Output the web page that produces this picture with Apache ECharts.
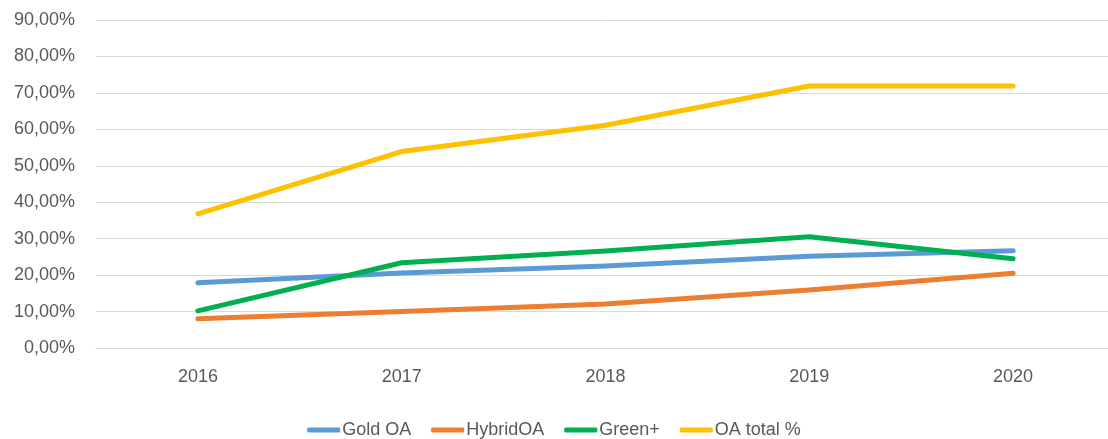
<!DOCTYPE html>
<html>
<head>
<meta charset="utf-8">
<script src="https://cdn.jsdelivr.net/npm/echarts@6/dist/echarts.min.js"></script>
<style>
html,body{margin:0;padding:0;background:#fff;}
#chart{width:1108px;height:439px;}
</style>
</head>
<body>
<div id="chart"></div>
<script>
const categories = ['2016', '2017', '2018', '2019', '2020'];
const goldOA = [0.179, 0.206, 0.225, 0.252, 0.267];
const hybridOA = [0.080, 0.100, 0.121, 0.159, 0.205];
const greenPlus = [0.102, 0.234, 0.266, 0.305, 0.245];
const oaTotal = [0.368, 0.539, 0.611, 0.719, 0.719];
const seriesNames = ['Gold OA', 'HybridOA', 'Green+', 'OA total %'];
const seriesColors = ['#5B9BD5', '#ED7D31', '#00B050', '#FFC000'];
const seriesData = [goldOA, hybridOA, greenPlus, oaTotal];

const font = '"Liberation Sans", Arial, sans-serif';
const chart = echarts.init(document.getElementById('chart'));
chart.setOption({
  animation: false,
  backgroundColor: '#ffffff',
  grid: { left: 96, width: 1019, top: 20, height: 328, containLabel: false, outerBoundsMode: 'none' },
  legend: {
    top: 416,
    left: 'center',
    icon: 'roundRect',
    itemWidth: 33,
    itemHeight: 5,
    itemGap: 20,
    textStyle: { color: '#595959', fontSize: 18, fontFamily: font, padding: [0, 0, 0, -3] },
    data: seriesNames
  },
  xAxis: {
    type: 'category',
    data: categories,
    boundaryGap: true,
    axisLine: { show: true, lineStyle: { color: '#d9d9d9', width: 1 } },
    axisTick: { show: false },
    axisLabel: { color: '#595959', fontSize: 18, fontFamily: font, margin: 20 }
  },
  yAxis: {
    type: 'value',
    min: 0,
    max: 0.9,
    interval: 0.1,
    axisLine: { show: false },
    axisTick: { show: false },
    splitLine: { lineStyle: { color: '#d9d9d9', width: 1 } },
    axisLabel: {
      color: '#595959', fontSize: 18, fontFamily: font, margin: 21,
      formatter: v => (v * 100).toFixed(2).replace('.', ',') + '%'
    }
  },
  series: seriesNames.map((n, i) => ({
    name: n,
    type: 'line',
    data: seriesData[i],
    showSymbol: false,
    symbol: 'none',
    smooth: false,
    lineStyle: { color: seriesColors[i], width: 5, cap: 'round', join: 'round' },
    itemStyle: { color: seriesColors[i] }
  }))
});
</script>
</body>
</html>
